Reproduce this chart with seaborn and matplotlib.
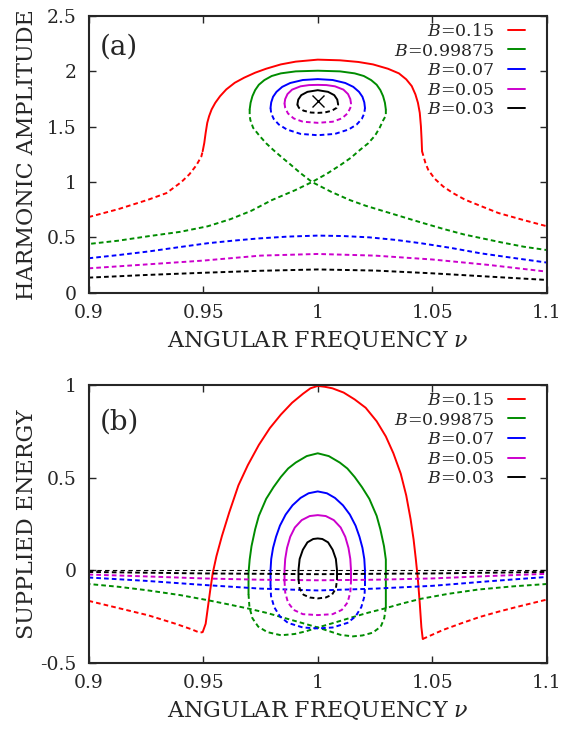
import numpy as np
import pandas as pd
import seaborn as sns
import matplotlib.pyplot as plt
from matplotlib.lines import Line2D
from matplotlib.ticker import FuncFormatter

# legend / colours
B_labels = ['0.15', '0.99875', '0.07', '0.05', '0.03']
B_colors = ['#ff0000', '#008c00', '#0000ff', '#cc00cc', '#000000']

# ---------- panel (a): harmonic amplitude ----------
# B=0.15
a1_left_nu = [0.9, 0.913, 0.926, 0.934, 0.9405, 0.944, 0.947, 0.9492, 0.9498]
a1_left = [0.683, 0.755, 0.84, 0.90, 1.0, 1.07, 1.15, 1.23, 1.278]
a1_top_nu = [0.9498, 0.9505, 0.9511, 0.9518, 0.9526, 0.9537, 0.9553, 0.9574, 0.9601,
             0.9638, 0.9679, 0.9727, 0.9775, 0.9839, 0.9904, 1.0, 1.0097, 1.0177,
             1.0241, 1.0306, 1.0354, 1.0386, 1.041, 1.0426, 1.0437, 1.0445, 1.045,
             1.0453, 1.0455]
a1_top = [1.278, 1.353, 1.444, 1.535, 1.595, 1.656, 1.716, 1.776, 1.837,
          1.897, 1.943, 1.988, 2.024, 2.063, 2.088, 2.106, 2.10, 2.085,
          2.063, 2.024, 1.982, 1.928, 1.867, 1.792, 1.716, 1.625, 1.505,
          1.384, 1.278]
a1_right_nu = [1.0455, 1.047, 1.0482, 1.051, 1.0547, 1.059, 1.0643, 1.0715, 1.0788, 1.09, 1.1]
a1_right = [1.278, 1.17, 1.11, 1.03, 0.96, 0.90, 0.84, 0.78, 0.72, 0.655, 0.60]
# B=0.99875
a2_top_nu = [0.9703, 0.9707, 0.9715, 0.9727, 0.9743, 0.9767, 0.9799, 0.9839, 0.9904,
             1.0, 1.0097, 1.0161, 1.0201, 1.0233, 1.0257, 1.0273, 1.0285, 1.0293, 1.0297]
a2_top = [1.656, 1.716, 1.776, 1.831, 1.879, 1.921, 1.958, 1.982, 2.0,
          2.006, 2.0, 1.982, 1.958, 1.921, 1.879, 1.831, 1.776, 1.716, 1.656]
a2_lbr_nu = [0.9703, 0.9703, 0.9706, 0.9718, 0.9745, 0.9775, 0.9806, 0.9845, 0.988,
             0.9925, 0.9975, 1.006, 1.014, 1.021, 1.029, 1.037, 1.045, 1.055,
             1.064, 1.08, 1.09, 1.1]
a2_lbr = [1.656, 1.60, 1.56, 1.49, 1.42, 1.35, 1.29, 1.22, 1.16,
          1.08, 1.0, 0.91, 0.837, 0.785, 0.735, 0.685, 0.635, 0.575,
          0.525, 0.455, 0.415, 0.385]
a2_rbr_nu = [1.0297, 1.0297, 1.0286, 1.027, 1.025, 1.022, 1.0184, 1.0145, 1.01,
             1.004, 0.9975, 0.990, 0.980, 0.971, 0.962, 0.952, 0.94, 0.926, 0.913, 0.9]
a2_rbr = [1.656, 1.60, 1.56, 1.49, 1.42, 1.35, 1.29, 1.22, 1.155,
          1.075, 1.0, 0.925, 0.837, 0.74, 0.665, 0.60, 0.55, 0.51, 0.47, 0.44]
# B=0.07
a3_top_nu = [0.9794, 0.9797, 0.9805, 0.982, 0.9845, 0.988, 0.9935, 1.0,
             1.0065, 1.012, 1.0155, 1.018, 1.0195, 1.0203, 1.0206]
a3_top = [1.67, 1.72, 1.77, 1.815, 1.86, 1.895, 1.922, 1.93,
          1.922, 1.895, 1.86, 1.815, 1.77, 1.72, 1.67]
a3_mid_nu = [0.9794, 0.9797, 0.9808, 0.983, 0.9865, 0.9925, 1.0,
             1.0075, 1.0135, 1.017, 1.0192, 1.0203, 1.0206]
a3_mid = [1.67, 1.62, 1.57, 1.52, 1.475, 1.435, 1.423,
          1.435, 1.475, 1.52, 1.57, 1.62, 1.67]
a3_low_nu = [0.9, 0.913, 0.926, 0.939, 0.952, 0.963, 0.974, 0.987, 1.0, 1.011,
             1.0225, 1.034, 1.045, 1.058, 1.071, 1.085, 1.1]
a3_low = [0.311, 0.34, 0.372, 0.41, 0.447, 0.47, 0.49, 0.507, 0.516, 0.512,
          0.50, 0.477, 0.447, 0.405, 0.356, 0.315, 0.272]
# B=0.05
a4_top_nu = [0.9855, 0.9858, 0.9868, 0.9888, 0.9925, 0.9962, 1.0,
             1.0038, 1.0075, 1.0112, 1.0132, 1.0142, 1.0145]
a4_top = [1.71, 1.75, 1.795, 1.835, 1.865, 1.876, 1.878,
          1.876, 1.865, 1.835, 1.795, 1.75, 1.71]
a4_mid_nu = [0.9855, 0.9858, 0.987, 0.9895, 0.9935, 1.0, 1.0065, 1.0105, 1.013, 1.0142, 1.0145]
a4_mid = [1.71, 1.67, 1.62, 1.575, 1.545, 1.535, 1.545, 1.575, 1.62, 1.67, 1.71]
a4_low_nu = [0.9, 0.925, 0.95, 0.975, 1.0, 1.025, 1.05, 1.075, 1.1]
a4_low = [0.22, 0.255, 0.29, 0.335, 0.35, 0.335, 0.30, 0.25, 0.19]
# B=0.03
a5_top_nu = [0.9911, 0.9915, 0.9928, 0.9955, 1.0, 1.0045, 1.0072, 1.0085, 1.0089]
a5_top = [1.70, 1.745, 1.785, 1.815, 1.83, 1.815, 1.785, 1.745, 1.70]
a5_mid_nu = [0.9911, 0.9918, 0.9938, 0.997, 1.0, 1.003, 1.0062, 1.0082, 1.0089]
a5_mid = [1.70, 1.67, 1.645, 1.628, 1.625, 1.628, 1.645, 1.67, 1.70]
a5_low_nu = [0.9, 0.925, 0.95, 0.975, 1.0, 1.025, 1.05, 1.075, 1.1]
a5_low = [0.136, 0.16, 0.18, 0.198, 0.21, 0.2, 0.175, 0.145, 0.115]
center_nu, center_amp = 1.0, 1.73

# ---------- panel (b): supplied energy ----------
b1_left_nu = [0.9, 0.913, 0.926, 0.938, 0.945, 0.9485, 0.9498]
b1_left = [-0.166, -0.205, -0.244, -0.29, -0.32, -0.338, -0.335]
b1_top_nu = [0.9498, 0.9511, 0.9521, 0.9531, 0.9542, 0.9558, 0.9582, 0.9614, 0.9654,
             0.9695, 0.9743, 0.9791, 0.9839, 0.9888, 0.9936, 0.9968, 1.0, 1.0032,
             1.0064, 1.0113, 1.0161, 1.0209, 1.0257, 1.0297, 1.033, 1.0362,
             1.0386, 1.0405, 1.0418, 1.0428, 1.0437, 1.0445, 1.0452, 1.0458]
b1_top = [-0.335, -0.29, -0.199, -0.108, -0.016, 0.075, 0.184, 0.312, 0.458,
          0.567, 0.676, 0.767, 0.84, 0.904, 0.953, 0.982, 0.995, 0.99,
          0.982, 0.959, 0.922, 0.877, 0.804, 0.722, 0.631, 0.521,
          0.403, 0.275, 0.166, 0.057, -0.053, -0.18, -0.308, -0.372]
b1_right_nu = [1.0458, 1.0547, 1.0627, 1.0707, 1.0787, 1.0868, 1.1]
b1_right = [-0.372, -0.323, -0.287, -0.253, -0.225, -0.199, -0.159]
b2_top_nu = [0.9698, 0.9698, 0.9703, 0.9711, 0.9727, 0.9743, 0.9775, 0.9807, 0.9839,
             0.9871, 0.9904, 0.9952, 1.0, 1.0048, 1.0096, 1.0129, 1.0161, 1.0193,
             1.0225, 1.0257, 1.0273, 1.0289, 1.0297, 1.0297, 1.0297]
b2_top = [-0.13, -0.016, 0.057, 0.129, 0.221, 0.293, 0.385, 0.448, 0.503,
          0.549, 0.581, 0.616, 0.631, 0.616, 0.581, 0.549, 0.503, 0.448,
          0.385, 0.293, 0.221, 0.129, 0.057, -0.016, -0.2]
b2_lbr_nu = [0.9698, 0.9702, 0.9715, 0.974, 0.978, 0.984, 0.990, 0.995, 1.0, 1.007,
             1.015, 1.022, 1.029, 1.037, 1.045, 1.057, 1.07, 1.085, 1.1]
b2_lbr = [-0.13, -0.2, -0.26, -0.305, -0.335, -0.352, -0.345, -0.33, -0.31, -0.285,
          -0.255, -0.23, -0.208, -0.18, -0.155, -0.128, -0.105, -0.088, -0.075]
b2_rbr_nu = [1.0297, 1.029, 1.0275, 1.024, 1.0195, 1.0153, 1.01, 1.005, 1.0, 0.993,
             0.985, 0.978, 0.9698, 0.961, 0.9518, 0.94, 0.925, 0.913, 0.9]
b2_rbr = [-0.2, -0.26, -0.305, -0.338, -0.353, -0.358, -0.35, -0.33, -0.31, -0.285,
          -0.257, -0.232, -0.208, -0.185, -0.162, -0.135, -0.108, -0.09, -0.075]
b3_top_nu = [0.9794, 0.9794, 0.9797, 0.9805, 0.9818, 0.9835, 0.986, 0.989, 0.9925,
             0.996, 1.0, 1.004, 1.0075, 1.011, 1.014, 1.0165, 1.0182, 1.0195,
             1.0203, 1.0206, 1.0206]
b3_top = [-0.08, 0.0, 0.06, 0.12, 0.18, 0.24, 0.30, 0.35, 0.39,
          0.415, 0.425, 0.415, 0.39, 0.35, 0.30, 0.24, 0.18, 0.12,
          0.06, 0.0, -0.08]
b3_mid_nu = [0.9794, 0.9796, 0.981, 0.9835, 0.987, 0.9935, 1.0, 1.0065, 1.013,
             1.0165, 1.019, 1.0204, 1.0206]
b3_mid = [-0.08, -0.14, -0.20, -0.25, -0.285, -0.31, -0.315, -0.31, -0.285,
          -0.25, -0.20, -0.14, -0.08]
b3_low_nu = [0.9, 0.925, 0.95, 0.975, 1.0, 1.025, 1.05, 1.075, 1.1]
b3_low = [-0.04, -0.058, -0.08, -0.1, -0.11, -0.1, -0.085, -0.06, -0.037]
b4_top_nu = [0.9855, 0.9855, 0.9858, 0.9866, 0.988, 0.990, 0.993, 0.9965, 1.0,
             1.0035, 1.007, 1.010, 1.012, 1.0134, 1.0142, 1.0145, 1.0145]
b4_top = [-0.06, 0.0, 0.06, 0.12, 0.18, 0.23, 0.27, 0.292, 0.297,
          0.292, 0.27, 0.23, 0.18, 0.12, 0.06, 0.0, -0.06]
b4_mid_nu = [0.9855, 0.9858, 0.987, 0.9895, 0.9935, 1.0, 1.0065, 1.0105, 1.013, 1.0142, 1.0145]
b4_mid = [-0.06, -0.12, -0.175, -0.215, -0.238, -0.243, -0.238, -0.215, -0.175, -0.12, -0.06]
b4_low_nu = [0.9, 0.925, 0.95, 0.975, 1.0, 1.025, 1.05, 1.075, 1.1]
b4_low = [-0.024, -0.034, -0.045, -0.052, -0.055, -0.052, -0.045, -0.032, -0.02]
b5_top_nu = [0.9916, 0.9916, 0.9921, 0.9935, 0.9955, 0.998, 1.0, 1.002, 1.0045,
             1.0065, 1.0079, 1.0084, 1.0084]
b5_top = [-0.05, 0.0, 0.06, 0.11, 0.15, 0.168, 0.171, 0.168, 0.15,
          0.11, 0.06, 0.0, -0.05]
b5_mid_nu = [0.9916, 0.9921, 0.9938, 0.9965, 1.0, 1.0035, 1.0062, 1.0079, 1.0084]
b5_mid = [-0.05, -0.1, -0.133, -0.148, -0.153, -0.148, -0.133, -0.1, -0.05]
b5_low_nu = [0.9, 0.95, 1.0, 1.05, 1.1]
b5_low = [-0.01, -0.018, -0.022, -0.018, -0.01]

panel_a = [
    (0, 'stable', a1_top_nu, a1_top), (0, 'unstable', a1_left_nu, a1_left),
    (0, 'unstable', a1_right_nu, a1_right),
    (1, 'stable', a2_top_nu, a2_top), (1, 'unstable', a2_lbr_nu, a2_lbr),
    (1, 'unstable', a2_rbr_nu, a2_rbr),
    (2, 'stable', a3_top_nu, a3_top), (2, 'unstable', a3_mid_nu, a3_mid),
    (2, 'unstable', a3_low_nu, a3_low),
    (3, 'stable', a4_top_nu, a4_top), (3, 'unstable', a4_mid_nu, a4_mid),
    (3, 'unstable', a4_low_nu, a4_low),
    (4, 'stable', a5_top_nu, a5_top), (4, 'unstable', a5_mid_nu, a5_mid),
    (4, 'unstable', a5_low_nu, a5_low),
]
panel_b = [
    (0, 'stable', b1_top_nu, b1_top), (0, 'unstable', b1_left_nu, b1_left),
    (0, 'unstable', b1_right_nu, b1_right),
    (1, 'stable', b2_top_nu, b2_top), (1, 'unstable', b2_lbr_nu, b2_lbr),
    (1, 'unstable', b2_rbr_nu, b2_rbr),
    (2, 'stable', b3_top_nu, b3_top), (2, 'unstable', b3_mid_nu, b3_mid),
    (2, 'unstable', b3_low_nu, b3_low),
    (3, 'stable', b4_top_nu, b4_top), (3, 'unstable', b4_mid_nu, b4_mid),
    (3, 'unstable', b4_low_nu, b4_low),
    (4, 'stable', b5_top_nu, b5_top), (4, 'unstable', b5_mid_nu, b5_mid),
    (4, 'unstable', b5_low_nu, b5_low),
]


def to_frame(branches):
    rows = []
    for k, (ib, kind, nu, val) in enumerate(branches):
        for x, y in zip(nu, val):
            rows.append({'nu': x, 'val': y, 'B': B_labels[ib], 'kind': kind, 'seg': k})
    return pd.DataFrame(rows)


sns.set_style('ticks')
plt.rcParams['font.family'] = ['DejaVu Serif']
plt.rcParams['mathtext.fontset'] = 'dejavuserif'
plt.rcParams['axes.unicode_minus'] = False

fig = plt.figure(figsize=(5.8, 7.29), dpi=100)
ax1 = fig.add_axes([0.1526, 0.5985, 0.7905, 0.3795])
ax2 = fig.add_axes([0.1526, 0.0910, 0.7905, 0.3809])

palette = dict(zip(B_labels, B_colors))
dash_map = {'stable': '', 'unstable': (2.4, 1.6)}
lw = 1.4

for ax, branches in [(ax1, panel_a), (ax2, panel_b)]:
    df = to_frame(branches)
    sns.lineplot(data=df, x='nu', y='val', hue='B', style='kind', units='seg',
                 estimator=None, sort=False, palette=palette, dashes=dash_map,
                 linewidth=lw, legend=False, ax=ax)

ax2.axhline(0, color='black', lw=0.8, dashes=(4, 3), zorder=1)
ax1.plot([center_nu], [center_amp], marker='x', color='black', ms=8, mew=1.0, ls='none')

fmt = FuncFormatter(lambda v, p: f'{v:g}')
for ax, ylim, yt, ylabel, tag, tag_y, xl_y in [
        (ax1, (0, 2.5), [0, 0.5, 1, 1.5, 2, 2.5], 'HARMONIC AMPLITUDE', '(a)', 0.888, -0.133),
        (ax2, (-0.5, 1), [-0.5, 0, 0.5, 1], 'SUPPLIED ENERGY', '(b)', 0.868, -0.131)]:
    ax.set_xlim(0.9, 1.1)
    ax.set_ylim(*ylim)
    ax.set_xticks([0.9, 0.95, 1.0, 1.05, 1.1])
    ax.set_yticks(yt)
    ax.xaxis.set_major_formatter(fmt)
    ax.yaxis.set_major_formatter(fmt)
    ax.tick_params(direction='in', top=True, right=True, length=5, width=1.0,
                   labelsize=13.5)
    ax.tick_params(axis='x', pad=8)
    ax.tick_params(axis='y', pad=8.5)
    for s in ax.spines.values():
        s.set_linewidth(1.5)
    ax.set_xlabel(r'ANGULAR FREQUENCY $\nu$', fontsize=16)
    ax.set_ylabel(ylabel, fontsize=16)
    ax.xaxis.set_label_coords(0.5, xl_y)
    ax.yaxis.set_label_coords(-0.11, 0.5)
    ax.text(0.025, tag_y, tag, transform=ax.transAxes, fontsize=20,
            ha='left', va='center')
    handles = [Line2D([], [], color=c, lw=lw) for c in B_colors]
    labels = [f'$B$={b}' for b in B_labels]
    ax.legend(handles, labels, loc='upper right', bbox_to_anchor=(0.952, 0.975),
              frameon=False, markerfirst=False, fontsize=12.5, handlelength=1.0,
              handletextpad=0.8, labelspacing=0.15, borderpad=0, borderaxespad=0)

fig.savefig('out.png', dpi=100)
